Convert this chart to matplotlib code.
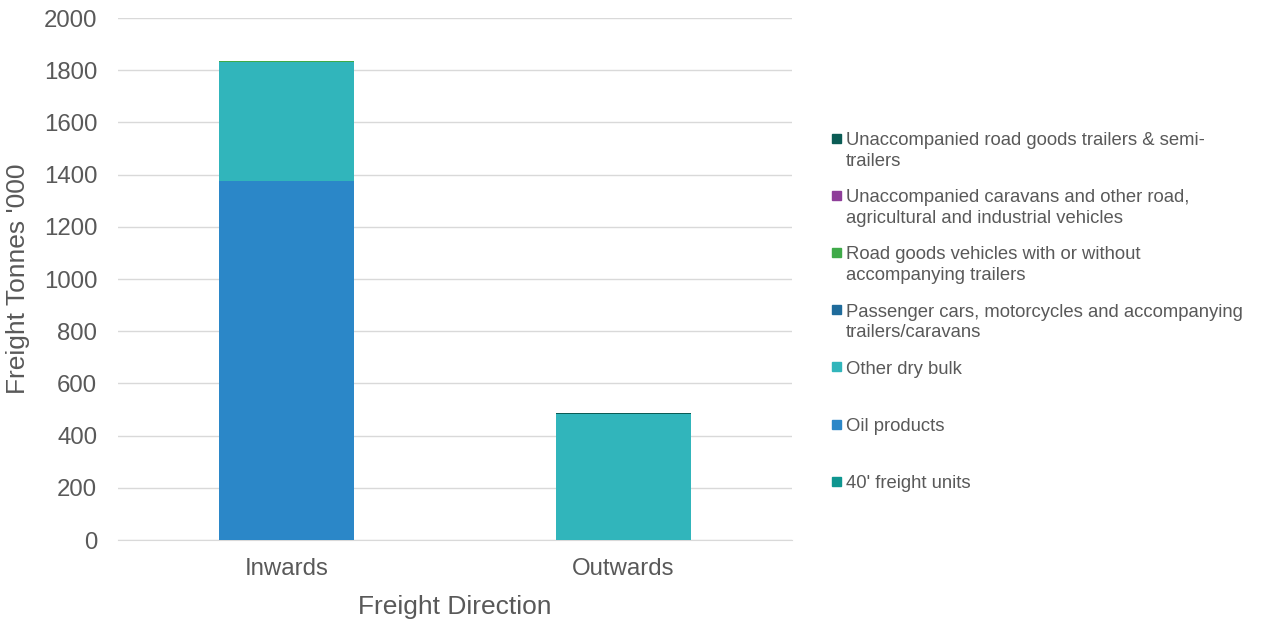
import numpy as np
import matplotlib.pyplot as plt
from matplotlib.patches import Rectangle

plt.rcParams['font.family'] = ['Liberation Sans', 'DejaVu Sans']

directions = ['Inwards', 'Outwards']

# stacked bottom -> top
series = [
    "40' freight units",
    'Oil products',
    'Other dry bulk',
    'Passenger cars, motorcycles and accompanying\ntrailers/caravans',
    'Road goods vehicles with or without\naccompanying trailers',
    'Unaccompanied caravans and other road,\nagricultural and industrial vehicles',
    'Unaccompanied road goods trailers & semi-\ntrailers',
]
freight_40ft = [0, 0]
oil_products = [1375, 0]
other_dry_bulk = [455, 482]
passenger_cars = [0, 0]
road_goods = [5, 0]
unacc_caravans = [0, 0]
unacc_trailers = [0, 3]

values = [freight_40ft, oil_products, other_dry_bulk, passenger_cars,
          road_goods, unacc_caravans, unacc_trailers]
colors = ['#0E9690', '#2B87C8', '#31B5BB', '#1F6B9B', '#3FAA49', '#8E3E99', '#0B5C55']

fig = plt.figure(figsize=(12.61, 6.22), dpi=100)
ax = fig.add_axes([0.0936, 0.1318, 0.5345, 0.8392])

x = np.arange(len(directions))
bottom = np.zeros(len(directions))
for vals, col in zip(values, colors):
    ax.bar(x, vals, width=0.4, bottom=bottom, color=col, zorder=3)
    bottom += np.array(vals)

ax.set_xlim(-0.5, 1.5)
ax.set_ylim(0, 2000)
ax.set_yticks(range(0, 2001, 200))
ax.set_xticks(x)
ax.set_xticklabels(directions)
ax.yaxis.grid(True, color='#d9d9d9', linewidth=1, zorder=0)
for s in ['top', 'right', 'left']:
    ax.spines[s].set_visible(False)
ax.spines['bottom'].set_color('#d9d9d9')
ax.tick_params(axis='both', length=0, labelsize=17.3, labelcolor='#595959')
ax.tick_params(axis='x', pad=13)
ax.tick_params(axis='y', pad=15)
ax.set_ylabel("Freight Tonnes '000", fontsize=19, color='#595959', labelpad=10)
ax.set_xlabel('Freight Direction', fontsize=19, color='#595959', labelpad=11)

# legend, reversed order, drawn by hand so markers sit on the first line
H, W = 622, 1261
for i, (name, col) in enumerate(zip(series[::-1], colors[::-1])):
    y_px = 138 + i * 57.2
    fig.patches.append(Rectangle((832 / W, 1 - (y_px + 4.5) / H), 9 / W, 9 / H,
                                 transform=fig.transFigure, color=col))
    fig.text(846 / W, 1 - (y_px - 6) / H, name, fontsize=13.3, color='#595959',
             va='top', ha='left', linespacing=1.27)

fig.savefig('out.png', dpi=100)
